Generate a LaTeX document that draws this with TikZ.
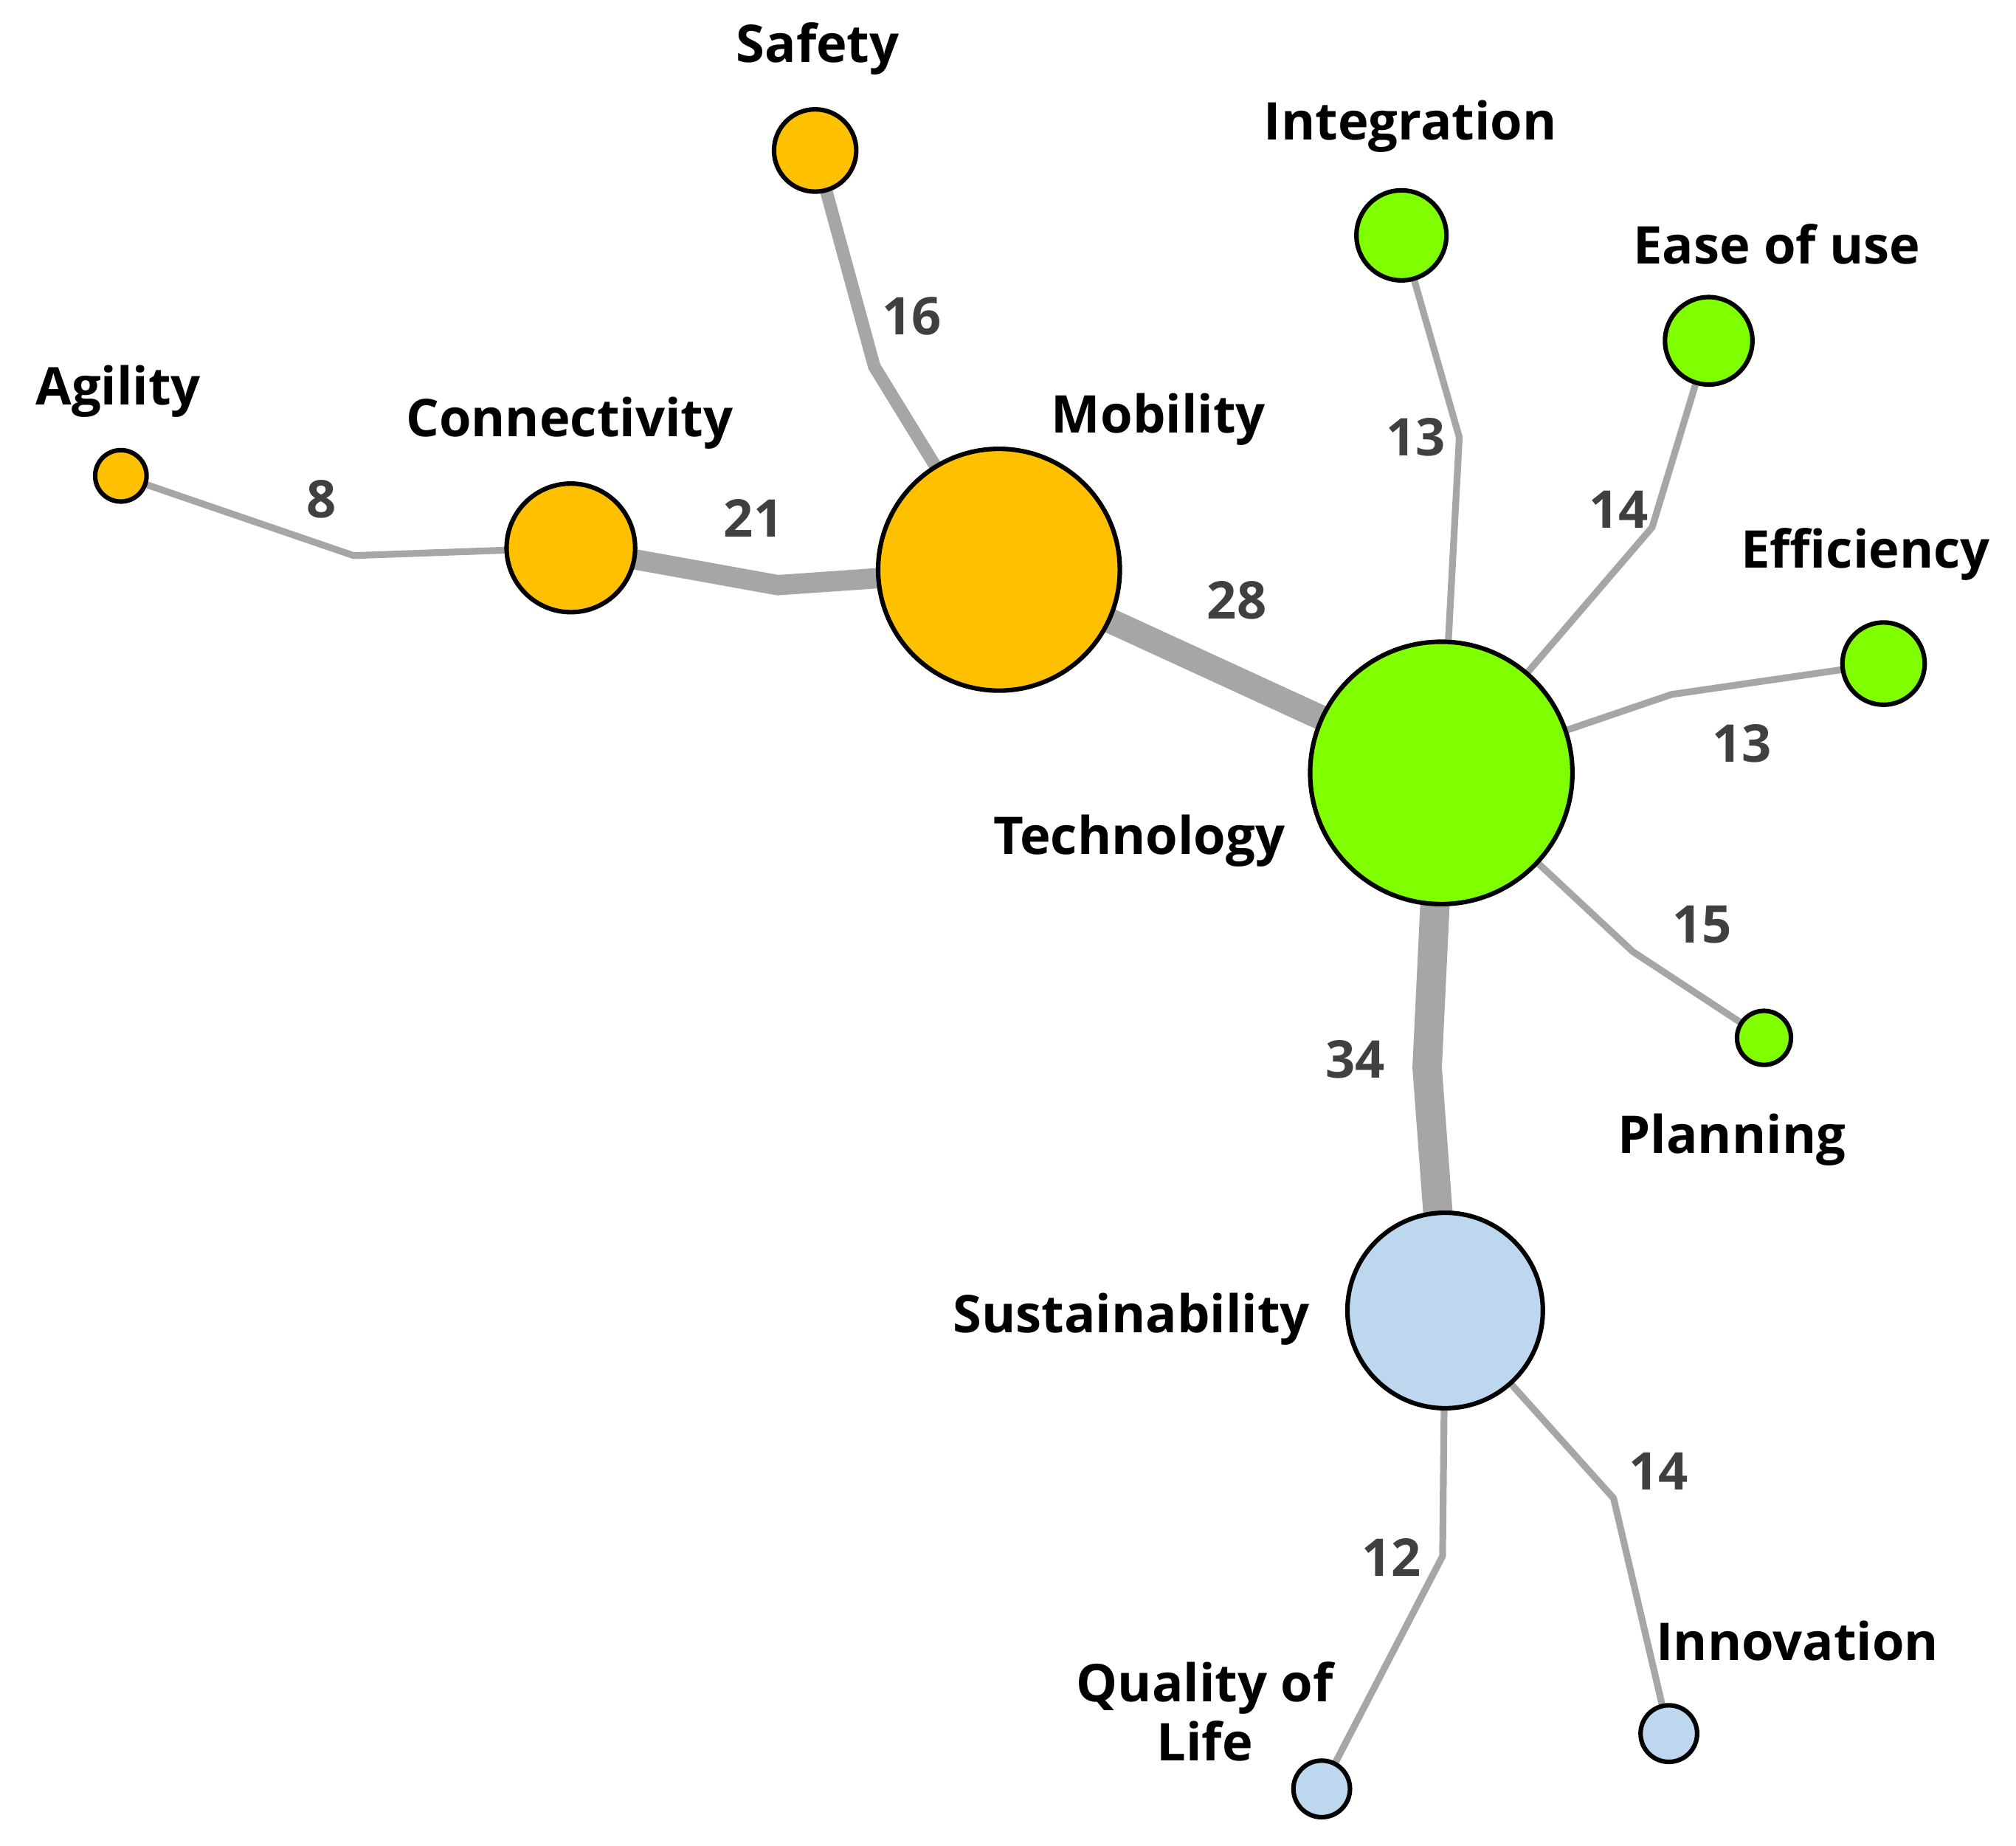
\documentclass[tikz,border=0pt]{standalone}
\usepackage{fontspec}
\setmainfont{Open Sans}
\usetikzlibrary{backgrounds}
\definecolor{org}{HTML}{FFC000}
\definecolor{grn}{HTML}{80FF00}
\definecolor{blu}{HTML}{BDD7EE}
\definecolor{edg}{HTML}{A6A6A6}
\definecolor{num}{HTML}{404040}
\begin{document}
\begin{tikzpicture}[x=0.01cm,y=-0.01cm,
 bub/.style={circle,draw=black,line width=1pt,inner sep=0pt,minimum size=#1*0.01cm},
 lab/.style={font=\bfseries\fontsize{11.5}{13}\selectfont,align=center},
 nm/.style={font=\bfseries\fontsize{11.5}{13}\selectfont,text=num},
 ed/.style={draw=edg,line join=round}]
\useasboundingbox (0,0) rectangle (1568,1435);
\node[bub=64,fill=org] (saf) at (634,117) {};
\node[bub=70,fill=grn] (int) at (1090,183) {};
\node[bub=68,fill=grn] (eas) at (1329,265) {};
\node[bub=40,fill=org] (agi) at (94,370) {};
\node[bub=100,fill=org] (con) at (444,426) {};
\node[bub=188,fill=org] (mob) at (777,443) {};
\node[bub=64,fill=grn] (eff) at (1465,516) {};
\node[bub=204,fill=grn] (tec) at (1121,601) {};
\node[bub=42,fill=grn] (pla) at (1372,807) {};
\node[bub=152,fill=blu] (sus) at (1124,1019) {};
\node[bub=44,fill=blu] (inn) at (1298,1348) {};
\node[bub=44,fill=blu] (qol) at (1028,1391) {};
\begin{scope}[on background layer]
\draw[ed,line width=1.5pt] (agi.center) -- (275,432) -- (con.center);
\draw[ed,line width=4.5pt] (con.center) -- (605,455) -- (mob.center);
\draw[ed,line width=2.8pt] (saf.center) -- (680,285) -- (mob.center);
\draw[ed,line width=5.5pt] (mob.center) -- (tec.center);
\draw[ed,line width=1.5pt] (int.center) -- (1135,340) -- (tec.center);
\draw[ed,line width=1.5pt] (eas.center) -- (1285,410) -- (tec.center);
\draw[ed,line width=1.5pt] (eff.center) -- (1300,540) -- (tec.center);
\draw[ed,line width=1.5pt] (pla.center) -- (1270,740) -- (tec.center);
\draw[ed,line width=6.5pt] (tec.center) -- (1110,830) -- (sus.center);
\draw[ed,line width=1.5pt] (sus.center) -- (1255,1165) -- (inn.center);
\draw[ed,line width=1.5pt] (sus.center) -- (1122,1210) -- (qol.center);
\end{scope}
\node[lab] (l1) at (636,38) {Safety};
\node[lab] (l2) at (1097,98) {Integration};
\node[lab] (l3) at (1382,190) {Ease of use};
\node[lab] (l4) at (92,304) {Agility};
\node[lab] (l5) at (443,329) {Connectivity};
\node[lab] (l6) at (901,326) {Mobility};
\node[lab] (l7) at (1451,431) {Efficiency};
\node[lab] (l8) at (886,654) {Technology};
\node[lab] (l9) at (1347,886) {Planning};
\node[lab] (l10) at (880,1026) {Sustainability};
\node[lab] (l11) at (1398,1276) {Innovation};
\node[lab] (l12) at (937,1331) {Quality of\\Life};
\node[nm] (n1) at (709,246) {16};
\node[nm] (n2) at (250,388) {8};
\node[nm] (n3) at (586,403) {21};
\node[nm] (n4) at (962,467) {28};
\node[nm] (n5) at (1101,340) {13};
\node[nm] (n6) at (1259,396) {14};
\node[nm] (n7) at (1355,578) {13};
\node[nm] (n8) at (1324,719) {15};
\node[nm] (n9) at (1054,824) {34};
\node[nm] (n10) at (1290,1144) {14};
\node[nm] (n11) at (1082,1211) {12};
\end{tikzpicture}
\end{document}
